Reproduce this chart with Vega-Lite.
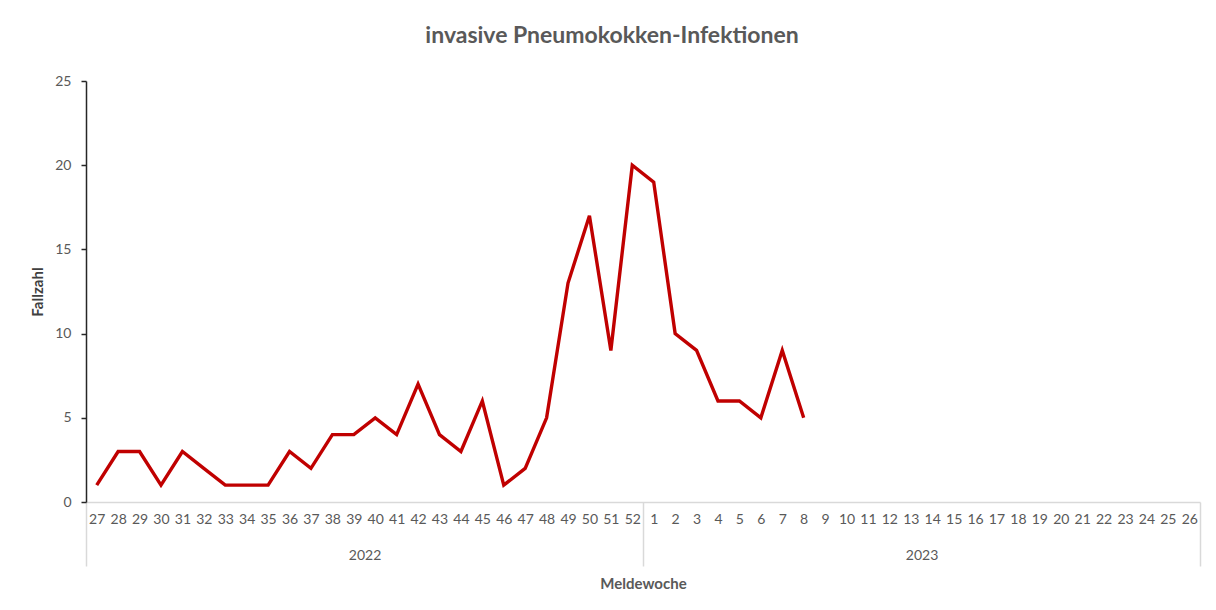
{
  "$schema": "https://vega.github.io/schema/vega-lite/v6.json",
  "autosize": {"type": "none"},
  "padding": {"left": 86, "top": 81, "right": 16, "bottom": 108},
  "width": 1114,
  "height": 421,
  "background": "white",
  "config": {"font": "Lato", "view": {"stroke": null}},
  "title": {"text": "invasive Pneumokokken-Infektionen", "fontSize": 23, "fontWeight": "bold", "color": "#595959", "offset": 26, "dx": -31, "font": "Lato"},
  "datasets": {
    "faelle": [
      {"key": "2022-27", "jahr": "2022", "woche": 27, "fallzahl": 1},
      {"key": "2022-28", "jahr": "2022", "woche": 28, "fallzahl": 3},
      {"key": "2022-29", "jahr": "2022", "woche": 29, "fallzahl": 3},
      {"key": "2022-30", "jahr": "2022", "woche": 30, "fallzahl": 1},
      {"key": "2022-31", "jahr": "2022", "woche": 31, "fallzahl": 3},
      {"key": "2022-32", "jahr": "2022", "woche": 32, "fallzahl": 2},
      {"key": "2022-33", "jahr": "2022", "woche": 33, "fallzahl": 1},
      {"key": "2022-34", "jahr": "2022", "woche": 34, "fallzahl": 1},
      {"key": "2022-35", "jahr": "2022", "woche": 35, "fallzahl": 1},
      {"key": "2022-36", "jahr": "2022", "woche": 36, "fallzahl": 3},
      {"key": "2022-37", "jahr": "2022", "woche": 37, "fallzahl": 2},
      {"key": "2022-38", "jahr": "2022", "woche": 38, "fallzahl": 4},
      {"key": "2022-39", "jahr": "2022", "woche": 39, "fallzahl": 4},
      {"key": "2022-40", "jahr": "2022", "woche": 40, "fallzahl": 5},
      {"key": "2022-41", "jahr": "2022", "woche": 41, "fallzahl": 4},
      {"key": "2022-42", "jahr": "2022", "woche": 42, "fallzahl": 7},
      {"key": "2022-43", "jahr": "2022", "woche": 43, "fallzahl": 4},
      {"key": "2022-44", "jahr": "2022", "woche": 44, "fallzahl": 3},
      {"key": "2022-45", "jahr": "2022", "woche": 45, "fallzahl": 6},
      {"key": "2022-46", "jahr": "2022", "woche": 46, "fallzahl": 1},
      {"key": "2022-47", "jahr": "2022", "woche": 47, "fallzahl": 2},
      {"key": "2022-48", "jahr": "2022", "woche": 48, "fallzahl": 5},
      {"key": "2022-49", "jahr": "2022", "woche": 49, "fallzahl": 13},
      {"key": "2022-50", "jahr": "2022", "woche": 50, "fallzahl": 17},
      {"key": "2022-51", "jahr": "2022", "woche": 51, "fallzahl": 9},
      {"key": "2022-52", "jahr": "2022", "woche": 52, "fallzahl": 20},
      {"key": "2023-1", "jahr": "2023", "woche": 1, "fallzahl": 19},
      {"key": "2023-2", "jahr": "2023", "woche": 2, "fallzahl": 10},
      {"key": "2023-3", "jahr": "2023", "woche": 3, "fallzahl": 9},
      {"key": "2023-4", "jahr": "2023", "woche": 4, "fallzahl": 6},
      {"key": "2023-5", "jahr": "2023", "woche": 5, "fallzahl": 6},
      {"key": "2023-6", "jahr": "2023", "woche": 6, "fallzahl": 5},
      {"key": "2023-7", "jahr": "2023", "woche": 7, "fallzahl": 9},
      {"key": "2023-8", "jahr": "2023", "woche": 8, "fallzahl": 5},
      {"key": "2023-9", "jahr": "2023", "woche": 9, "fallzahl": null},
      {"key": "2023-10", "jahr": "2023", "woche": 10, "fallzahl": null},
      {"key": "2023-11", "jahr": "2023", "woche": 11, "fallzahl": null},
      {"key": "2023-12", "jahr": "2023", "woche": 12, "fallzahl": null},
      {"key": "2023-13", "jahr": "2023", "woche": 13, "fallzahl": null},
      {"key": "2023-14", "jahr": "2023", "woche": 14, "fallzahl": null},
      {"key": "2023-15", "jahr": "2023", "woche": 15, "fallzahl": null},
      {"key": "2023-16", "jahr": "2023", "woche": 16, "fallzahl": null},
      {"key": "2023-17", "jahr": "2023", "woche": 17, "fallzahl": null},
      {"key": "2023-18", "jahr": "2023", "woche": 18, "fallzahl": null},
      {"key": "2023-19", "jahr": "2023", "woche": 19, "fallzahl": null},
      {"key": "2023-20", "jahr": "2023", "woche": 20, "fallzahl": null},
      {"key": "2023-21", "jahr": "2023", "woche": 21, "fallzahl": null},
      {"key": "2023-22", "jahr": "2023", "woche": 22, "fallzahl": null},
      {"key": "2023-23", "jahr": "2023", "woche": 23, "fallzahl": null},
      {"key": "2023-24", "jahr": "2023", "woche": 24, "fallzahl": null},
      {"key": "2023-25", "jahr": "2023", "woche": 25, "fallzahl": null},
      {"key": "2023-26", "jahr": "2023", "woche": 26, "fallzahl": null}
    ],
    "jahre": [{"jahr": "2022"}, {"jahr": "2023"}]
  },
  "layer": [
    {
      "data": {"name": "faelle"},
      "mark": {"type": "line", "color": "#C00000", "strokeWidth": 3.4, "invalid": "break-paths-show-domains"},
      "encoding": {
        "x": {
          "field": "key", "type": "ordinal", "sort": null,
          "scale": {"paddingInner": 0, "paddingOuter": 0.5},
          "axis": {
            "orient": "bottom", "title": null, "labelExpr": "split(datum.value, '-')[1]", "labelAngle": 0,
            "labelFontSize": 14, "labelColor": "#595959", "labelPadding": 10,
            "ticks": false, "domainColor": "#d9d9d9", "domainWidth": 1.5, "grid": false
          }
        },
        "y": {
          "field": "fallzahl", "type": "quantitative",
          "scale": {"domain": [0, 25]},
          "axis": {
            "title": "Fallzahl", "titleFontSize": 15, "titleFontWeight": "bold", "titleColor": "#404040", "titlePadding": 9,
            "values": [0, 5, 10, 15, 20, 25], "grid": false,
            "domainColor": "#262626", "domainWidth": 1.5, "tickColor": "#262626", "tickSize": 5, "tickWidth": 1.5,
            "labelFontSize": 14, "labelColor": "#595959", "labelPadding": 10
          }
        }
      }
    },
    {
      "data": {"name": "jahre"},
      "mark": {"type": "tick", "opacity": 0},
      "encoding": {
        "x": {
          "field": "jahr", "type": "ordinal",
          "scale": {"paddingInner": 0, "paddingOuter": 0},
          "axis": {
            "orient": "bottom",
            "title": "Meldewoche", "titleFontSize": 15, "titleFontWeight": "bold", "titleColor": "#595959", "titlePadding": 10,
            "labelFontSize": 14, "labelColor": "#595959", "labelAngle": 0, "labelPadding": -18,
            "tickBand": "extent", "tickSize": 64, "tickColor": "#d9d9d9", "tickWidth": 1.5,
            "domain": false, "offset": 0
          }
        }
      }
    }
  ],
  "resolve": {"scale": {"x": "independent"}, "axis": {"x": "independent"}}
}
